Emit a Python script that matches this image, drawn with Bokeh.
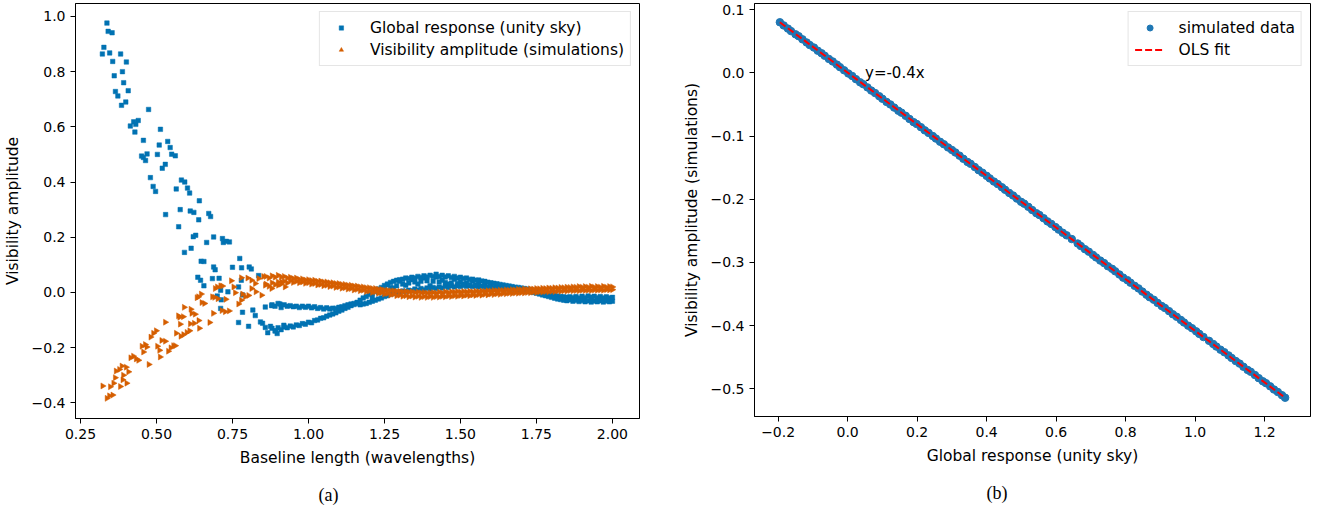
import numpy as np
from bokeh.plotting import figure
from bokeh.models import Range1d, FixedTicker, Legend, LegendItem, Title, Label
from bokeh.layouts import row
from bokeh.embed import file_html
from bokeh.resources import INLINE
from bokeh.core.properties import value

# ---------------- panel (a): scattered points ----------------
glob_x = [0.337, 0.341, 0.354, 0.327, 0.322, 0.346, 0.382, 0.356, 0.401, 0.388, 0.361, 0.392, 0.407, 0.365,
          0.373, 0.399, 0.385, 0.474, 0.440, 0.425, 0.432, 0.414, 0.429, 0.513, 0.457, 0.537, 0.509, 0.545,
          0.550, 0.562, 0.503, 0.469, 0.451, 0.457, 0.464, 0.529, 0.519, 0.480, 0.582, 0.593, 0.565, 0.602,
          0.489, 0.497, 0.609, 0.641, 0.578, 0.611, 0.623, 0.672, 0.678, 0.530, 0.639, 0.573, 0.621, 0.629,
          0.592, 0.614, 0.665, 0.688, 0.717, 0.720, 0.730, 0.740, 0.647, 0.656, 0.688, 0.693, 0.774, 0.750,
          0.780, 0.805, 0.812, 0.836, 0.636, 0.645, 0.656, 0.684, 0.706, 0.711, 0.770, 0.779, 0.700, 0.713,
          0.735, 0.783, 0.711, 0.783, 0.817, 0.825, 0.770, 0.803, 0.842, 0.849, 0.858, 0.879, 0.906, 0.858,
          0.866, 0.875, 0.892, 0.897, 0.919,
          1.21, 1.23, 1.26, 1.28, 1.30, 1.32, 1.34, 1.36, 1.38, 1.40, 1.42, 1.44, 1.46, 1.48, 1.50, 1.52,
          1.54, 1.56, 1.58, 1.60, 1.62, 1.64, 1.66, 1.81, 1.84, 1.87, 1.90, 1.93, 1.96, 1.99]
glob_y = [0.976, 0.946, 0.941, 0.888, 0.864, 0.868, 0.864, 0.837, 0.835, 0.800, 0.785, 0.760, 0.731, 0.728,
          0.712, 0.690, 0.678, 0.663, 0.623, 0.618, 0.609, 0.603, 0.581, 0.591, 0.551, 0.547, 0.534, 0.525,
          0.501, 0.495, 0.500, 0.502, 0.494, 0.489, 0.478, 0.464, 0.450, 0.416, 0.407, 0.400, 0.375, 0.378,
          0.384, 0.366, 0.360, 0.332, 0.300, 0.295, 0.290, 0.286, 0.275, 0.282, 0.263, 0.238, 0.202, 0.207,
          0.145, 0.160, 0.181, 0.201, 0.195, 0.181, 0.185, 0.183, 0.113, 0.112, 0.092, 0.082, 0.123, 0.091,
          0.089, 0.092, 0.085, 0.061, 0.055, 0.044, 0.024, 0.050, 0.051, 0.008, 0.020, 0.044, -0.013, -0.027,
          0.002, -0.009, -0.058, -0.072, -0.064, -0.084, -0.109, -0.123, -0.107, -0.112, -0.053, -0.048, -0.042, -0.127,
          -0.146, -0.123, -0.139, -0.149, -0.119,
          -0.018, 0.000, 0.028, 0.016, 0.040, 0.026, 0.046, 0.030, 0.052, 0.024, 0.056, 0.044, 0.030, 0.048, 0.038, 0.034,
          0.040, 0.030, 0.032, 0.027, 0.028, 0.022, 0.018, -0.016, -0.022, -0.026, -0.024, -0.027, -0.025, -0.026]

vis_x = [0.323, 0.337, 0.345, 0.356, 0.348, 0.359, 0.364, 0.367, 0.378, 0.386, 0.400, 0.408, 0.391, 0.389,
         0.402, 0.381, 0.415, 0.424, 0.433, 0.441, 0.457, 0.452, 0.463, 0.468, 0.475, 0.481, 0.490, 0.499,
         0.503, 0.510, 0.512, 0.517, 0.529, 0.539, 0.547, 0.556, 0.562, 0.529, 0.565, 0.580, 0.589, 0.600,
         0.609, 0.576, 0.578, 0.591, 0.613, 0.616, 0.627, 0.611, 0.624, 0.639, 0.641, 0.638, 0.647, 0.649,
         0.633, 0.658, 0.684, 0.693, 0.700, 0.711, 0.717, 0.691, 0.702, 0.687, 0.675, 0.715, 0.726, 0.739,
         0.728, 0.746, 0.754, 0.759, 0.770, 0.779, 0.783, 0.792, 0.803, 0.779, 0.800, 0.813, 0.825, 0.836,
         0.852, 0.813, 0.827, 0.846, 0.858, 0.879, 0.901, 0.912, 0.923, 0.572, 0.588]
vis_y = [-0.339, -0.384, -0.375, -0.372, -0.342, -0.329, -0.309, -0.285, -0.279, -0.267, -0.271, -0.288, -0.300, -0.317,
         -0.329, -0.341, -0.237, -0.231, -0.241, -0.246, -0.216, -0.195, -0.189, -0.198, -0.261, -0.162, -0.148, -0.139,
         -0.195, -0.210, -0.234, -0.174, -0.177, -0.213, -0.201, -0.193, -0.193, -0.108, -0.148, -0.159, -0.153, -0.145,
         -0.139, -0.090, -0.115, -0.054, -0.061, -0.076, -0.079, -0.114, -0.112, -0.102, -0.130, -0.016, -0.006, -0.037,
         -0.019, -0.040, -0.016, 0.014, 0.020, 0.024, 0.023, -0.018, -0.023, -0.076, -0.109, -0.066, -0.070, -0.067,
         -0.025, 0.042, 0.020, -0.001, -0.042, -0.028, -0.006, -0.016, -0.011, 0.053, 0.052, 0.044, 0.032, 0.050,
         0.058, 0.014, 0.002, -0.010, 0.026, 0.014, 0.026, 0.038, 0.020, -0.085, -0.088]

# ---------------- panel (a): dense bands (baselines 0.86 ... 2.00) ----------------
band_x = [0.86, 0.87, 0.88, 0.89, 0.90, 0.91, 0.92, 0.93, 0.94, 0.95, 0.96, 0.97, 0.98, 0.99, 1.00,
          1.01, 1.02, 1.03, 1.04, 1.05, 1.06, 1.07, 1.08, 1.09, 1.10, 1.11, 1.12, 1.13, 1.14, 1.15,
          1.16, 1.17, 1.18, 1.19, 1.20, 1.21, 1.22, 1.23, 1.24, 1.25, 1.26, 1.27, 1.28, 1.29, 1.30,
          1.31, 1.32, 1.33, 1.34, 1.35, 1.36, 1.37, 1.38, 1.39, 1.40, 1.41, 1.42, 1.43, 1.44, 1.45,
          1.46, 1.47, 1.48, 1.49, 1.50, 1.51, 1.52, 1.53, 1.54, 1.55, 1.56, 1.57, 1.58, 1.59, 1.60,
          1.61, 1.62, 1.63, 1.64, 1.65, 1.66, 1.67, 1.68, 1.69, 1.70, 1.71, 1.72, 1.73, 1.74, 1.75,
          1.76, 1.77, 1.78, 1.79, 1.80, 1.81, 1.82, 1.83, 1.84, 1.85, 1.86, 1.87, 1.88, 1.89, 1.90,
          1.91, 1.92, 1.93, 1.94, 1.95, 1.96, 1.97, 1.98, 1.99, 2.00]

# global response, baselines 0.88 ... 1.16 (two strands)
glob_upper = [-0.045, -0.050, -0.040, -0.055, -0.045, -0.050, -0.048, -0.052, -0.050, -0.055, -0.050, -0.054,
              -0.050, -0.056, -0.052, -0.058, -0.055, -0.060, -0.056, -0.060, -0.057, -0.058, -0.054, -0.052,
              -0.048, -0.045, -0.042, -0.040, -0.036]
glob_lower = [-0.130, -0.140, -0.128, -0.135, -0.125, -0.128, -0.122, -0.125, -0.118, -0.120, -0.113, -0.115,
              -0.108, -0.110, -0.102, -0.100, -0.094, -0.092, -0.086, -0.082, -0.078, -0.074, -0.068, -0.064,
              -0.058, -0.054, -0.048, -0.044, -0.040]
# global response, baselines 1.17 ... 2.00
glob_top = [-0.028, -0.020, -0.015, -0.008, -0.002, 0.004, 0.012, 0.018, 0.025, 0.030, 0.036, 0.040,
            0.044, 0.046, 0.048, 0.052, 0.050, 0.055, 0.052, 0.058, 0.054, 0.060, 0.056, 0.062,
            0.058, 0.066, 0.058, 0.062, 0.056, 0.060, 0.054, 0.058, 0.052, 0.055, 0.050, 0.052,
            0.047, 0.048, 0.044, 0.045, 0.041, 0.040, 0.037, 0.035, 0.033, 0.031, 0.029, 0.027,
            0.025, 0.023, 0.021, 0.019, 0.018, 0.016, 0.014, 0.012, 0.010, 0.008, 0.006, 0.003,
            0.000, -0.003, -0.006, -0.009, -0.011, -0.013, -0.015, -0.016, -0.018, -0.016, -0.019, -0.015,
            -0.020, -0.014, -0.019, -0.013, -0.018, -0.014, -0.019, -0.015, -0.020, -0.016, -0.020, -0.018]
glob_bot = [-0.045, -0.042, -0.040, -0.036, -0.032, -0.028, -0.024, -0.020, -0.015, -0.012, -0.006, -0.004,
            0.000, 0.002, 0.005, 0.004, 0.008, 0.006, 0.012, 0.008, 0.014, 0.010, 0.016, 0.012,
            0.018, 0.014, 0.020, 0.016, 0.022, 0.018, 0.024, 0.020, 0.024, 0.021, 0.025, 0.022,
            0.024, 0.021, 0.023, 0.020, 0.022, 0.019, 0.020, 0.018, 0.018, 0.016, 0.016, 0.014,
            0.014, 0.012, 0.012, 0.010, 0.009, 0.008, 0.006, 0.004, 0.002, 0.000, -0.003, -0.006,
            -0.009, -0.012, -0.015, -0.018, -0.021, -0.024, -0.026, -0.028, -0.030, -0.027, -0.032, -0.028,
            -0.033, -0.029, -0.034, -0.030, -0.035, -0.031, -0.034, -0.030, -0.035, -0.031, -0.034, -0.032]
glob_mid_x = [1.25, 1.27, 1.29, 1.31, 1.33, 1.35, 1.37, 1.39, 1.41, 1.43, 1.45, 1.47, 1.49, 1.51, 1.53, 1.55]
glob_mid_y = [0.010, 0.018, 0.024, 0.030, 0.034, 0.038, 0.040, 0.042, 0.040, 0.038, 0.036, 0.034, 0.032,
              0.030, 0.028, 0.026]

# visibility amplitude, baselines 0.86 ... 2.00 (two strands)
vis_top = [0.058, 0.052, 0.060, 0.055, 0.062, 0.056, 0.058, 0.052, 0.055, 0.050, 0.052, 0.047, 0.049, 0.045, 0.046,
           0.043, 0.044, 0.040, 0.041, 0.038, 0.038, 0.035, 0.035, 0.032, 0.032, 0.029, 0.029, 0.026, 0.026, 0.023,
           0.023, 0.020, 0.020, 0.017, 0.017, 0.014, 0.014, 0.011, 0.011, 0.008, 0.008, 0.006, 0.006, 0.004, 0.004,
           0.002, 0.003, 0.001, 0.002, 0.000, 0.001, -0.001, 0.000, -0.002, -0.001, 0.000, -0.002, 0.001, -0.001, 0.002,
           0.000, 0.002, 0.001, 0.003, 0.001, 0.003, 0.002, 0.004, 0.002, 0.004, 0.003, 0.005, 0.004, 0.006, 0.005,
           0.007, 0.006, 0.008, 0.007, 0.009, 0.008, 0.010, 0.009, 0.011, 0.010, 0.012, 0.011, 0.013, 0.012, 0.014,
           0.013, 0.015, 0.014, 0.016, 0.015, 0.017, 0.016, 0.018, 0.017, 0.019, 0.018, 0.020, 0.019, 0.021, 0.019,
           0.021, 0.019, 0.022, 0.019, 0.021, 0.019, 0.022, 0.019, 0.021, 0.020]
vis_bot = [0.030, 0.022, 0.035, 0.028, 0.038, 0.030, 0.040, 0.034, 0.042, 0.036, 0.040, 0.035, 0.038, 0.033, 0.035,
           0.030, 0.032, 0.027, 0.029, 0.024, 0.026, 0.021, 0.023, 0.018, 0.020, 0.015, 0.017, 0.012, 0.014, 0.009,
           0.011, 0.006, 0.008, 0.003, 0.005, 0.000, 0.002, -0.003, -0.001, -0.006, -0.004, -0.009, -0.007, -0.012, -0.010,
           -0.014, -0.012, -0.016, -0.013, -0.017, -0.014, -0.018, -0.015, -0.018, -0.015, -0.018, -0.015, -0.017, -0.014, -0.016,
           -0.013, -0.015, -0.012, -0.014, -0.011, -0.013, -0.010, -0.012, -0.009, -0.011, -0.008, -0.010, -0.007, -0.009, -0.006,
           -0.008, -0.005, -0.007, -0.004, -0.005, -0.003, -0.004, -0.002, -0.003, -0.001, -0.002, 0.000, -0.001, 0.001, 0.000,
           0.002, 0.001, 0.003, 0.002, 0.004, 0.003, 0.005, 0.004, 0.006, 0.005, 0.007, 0.006, 0.007, 0.006, 0.008,
           0.007, 0.008, 0.007, 0.009, 0.008, 0.009, 0.008, 0.010, 0.009, 0.010]

# ---------------- panel (b) ----------------
sim_x = [-0.195, -0.184, -0.172, -0.163, -0.150, -0.141, -0.130, -0.118, -0.109, -0.097, -0.086, -0.075, -0.066,
         -0.054, -0.043, -0.031, -0.022, -0.010, 0.002, 0.013, 0.024, 0.036, 0.045, 0.057, 0.068, 0.079, 0.091,
         0.100, 0.112, 0.123, 0.134, 0.146, 0.155, 0.167, 0.178, 0.190, 0.199, 0.211, 0.222, 0.233, 0.245, 0.254,
         0.266, 0.277, 0.289, 0.300, 0.310, 0.322, 0.333, 0.345, 0.354, 0.366, 0.377, 0.388, 0.400, 0.409, 0.421,
         0.432, 0.444, 0.453, 0.465, 0.476, 0.487, 0.499, 0.508, 0.520, 0.531, 0.543, 0.552, 0.564, 0.575, 0.586,
         0.598, 0.607, 0.619, 0.630, 0.645, 0.662, 0.671, 0.683, 0.694, 0.706, 0.715, 0.727, 0.738, 0.749, 0.761,
         0.770, 0.782, 0.793, 0.805, 0.814, 0.826, 0.837, 0.848, 0.860, 0.869, 0.881, 0.892, 0.904, 0.913, 0.925,
         0.936, 0.947, 0.959, 0.968, 0.980, 0.991, 1.003, 1.012, 1.024, 1.040, 1.052, 1.061, 1.073, 1.084, 1.096,
         1.105, 1.117, 1.128, 1.139, 1.151, 1.160, 1.172, 1.183, 1.195, 1.204, 1.216, 1.227, 1.238, 1.250, 1.259]
sim_y = [0.080, 0.075, 0.070, 0.066, 0.061, 0.058, 0.053, 0.048, 0.044, 0.040, 0.035, 0.031, 0.027,
         0.022, 0.018, 0.013, 0.009, 0.004, -0.001, -0.005, -0.010, -0.015, -0.018, -0.023, -0.028, -0.032, -0.037,
         -0.041, -0.046, -0.050, -0.055, -0.060, -0.063, -0.068, -0.073, -0.078, -0.081, -0.086, -0.091, -0.095, -0.100, -0.104,
         -0.109, -0.113, -0.118, -0.122, -0.126, -0.131, -0.136, -0.141, -0.144, -0.149, -0.154, -0.158, -0.163, -0.167, -0.172,
         -0.176, -0.181, -0.185, -0.190, -0.194, -0.199, -0.204, -0.207, -0.212, -0.217, -0.222, -0.225, -0.230, -0.235, -0.239,
         -0.244, -0.248, -0.253, -0.257, -0.263, -0.270, -0.274, -0.279, -0.283, -0.288, -0.292, -0.297, -0.301, -0.306, -0.310,
         -0.314, -0.319, -0.324, -0.328, -0.332, -0.337, -0.341, -0.346, -0.351, -0.355, -0.359, -0.364, -0.369, -0.372, -0.377,
         -0.382, -0.386, -0.391, -0.395, -0.400, -0.404, -0.409, -0.413, -0.418, -0.424, -0.429, -0.433, -0.438, -0.442, -0.447,
         -0.451, -0.456, -0.460, -0.465, -0.470, -0.473, -0.478, -0.483, -0.488, -0.491, -0.496, -0.501, -0.505, -0.510, -0.514]
fit_x = [-0.195, 1.259]
fit_y = [0.080, -0.514]
fit_label = "y=-0.4x"

a_xticks = [0.25, 0.50, 0.75, 1.00, 1.25, 1.50, 1.75, 2.00]
a_xlabels = ["0.25", "0.50", "0.75", "1.00", "1.25", "1.50", "1.75", "2.00"]
a_yticks = [-0.4, -0.2, 0.0, 0.2, 0.4, 0.6, 0.8, 1.0]
a_ylabels = ["\u22120.4", "\u22120.2", "0.0", "0.2", "0.4", "0.6", "0.8", "1.0"]
b_xticks = [-0.2, 0.0, 0.2, 0.4, 0.6, 0.8, 1.0, 1.2]
b_xlabels = ["\u22120.2", "0.0", "0.2", "0.4", "0.6", "0.8", "1.0", "1.2"]
b_yticks = [-0.5, -0.4, -0.3, -0.2, -0.1, 0.0, 0.1]
b_ylabels = ["\u22120.5", "\u22120.4", "\u22120.3", "\u22120.2", "\u22120.1", "0.0", "0.1"]

FONT = "DejaVu Sans"
BLUE_A = "#0072B2"
ORANGE_A = "#D55E00"
BLUE_B = "#1f77b4"


def style(p, xt, xl, yt, yl, xlabel, ylabel):
    p.xaxis.ticker = FixedTicker(ticks=xt)
    p.xaxis.major_label_overrides = {t: s for t, s in zip(xt, xl)}
    p.yaxis.ticker = FixedTicker(ticks=yt)
    p.yaxis.major_label_overrides = {t: s for t, s in zip(yt, yl)}
    p.xaxis.axis_label = xlabel
    p.yaxis.axis_label = ylabel
    for ax in p.axis:
        ax.axis_line_color = "black"
        ax.axis_line_width = 1
        ax.major_tick_line_color = "black"
        ax.major_tick_out = 5
        ax.major_tick_in = 0
        ax.minor_tick_line_color = None
        ax.major_label_text_font = FONT
        ax.major_label_text_font_size = "14px"
        ax.major_label_text_color = "black"
        ax.major_label_standoff = 5
        ax.axis_label_text_font = FONT
        ax.axis_label_text_font_size = "15.5px"
        ax.axis_label_text_font_style = "normal"
        ax.axis_label_text_color = "black"
        ax.axis_label_standoff = 7
    p.grid.visible = False
    p.outline_line_color = "black"
    p.outline_line_width = 1
    p.outline_line_alpha = 1
    p.background_fill_color = "white"
    p.border_fill_color = "white"


def make_legend(items, margin, glyph_h):
    return Legend(items=items, location="top_right", margin=margin, padding=6, spacing=3,
                  label_height=19, glyph_height=glyph_h, glyph_width=30, label_standoff=14,
                  label_text_font=FONT, label_text_font_size="15.5px", label_text_color="black",
                  border_line_color="#cccccc", border_line_width=1, background_fill_alpha=0.8)


# ---------------- figure (a) ----------------
p1 = figure(frame_width=564, frame_height=415, x_range=Range1d(0.2336, 2.089), y_range=Range1d(-0.457, 1.047),
            output_backend="svg", toolbar_location=None,
            min_border_left=69, min_border_right=40, min_border_top=0, min_border_bottom=83)
style(p1, a_xticks, a_xlabels, a_yticks, a_ylabels, "Baseline length (wavelengths)", "Visibility amplitude")

gx_all = list(glob_x) + band_x[2:31] + band_x[2:31] + band_x[31:] + band_x[31:] + glob_mid_x
gy_all = list(glob_y) + glob_upper + glob_lower + glob_top + glob_bot + glob_mid_y
vx_all = list(vis_x) + band_x + band_x
vy_all = list(vis_y) + vis_top + vis_bot

r_glob = p1.scatter(gx_all, gy_all, marker="square", size=4.5, fill_color=BLUE_A, line_color=BLUE_A, line_width=0.5)
r_vis = p1.scatter(vx_all, vy_all, marker="triangle", angle=-np.pi / 2, size=6, fill_color=ORANGE_A,
                   line_color=ORANGE_A, line_width=0.5)
p1.add_layout(make_legend([LegendItem(label="Global response (unity sky)", renderers=[r_glob]),
                           LegendItem(label="Visibility amplitude (simulations)", renderers=[r_vis])], 8, 11))
p1.add_layout(Title(text="(a)", align="left", offset=243, standoff=27, text_font="Liberation Serif",
                    text_font_size="18px", text_font_style="normal", text_color="black"), "below")

# ---------------- figure (b) ----------------
p2 = figure(frame_width=556, frame_height=413, x_range=Range1d(-0.268, 1.332), y_range=Range1d(-0.5437, 0.1097),
            output_backend="svg", toolbar_location=None,
            min_border_left=74, min_border_right=4, min_border_top=3, min_border_bottom=82)
style(p2, b_xticks, b_xlabels, b_yticks, b_ylabels, "Global response (unity sky)", "Visibility amplitude (simulations)")

r_sim = p2.scatter(sim_x, sim_y, marker="circle", size=7.5, fill_color=BLUE_B, line_color=BLUE_B)
r_fit = p2.line(fit_x, fit_y, line_color="red", line_width=2, line_dash="7 3")
p2.add_layout(Label(x=0.05, y=0.0, text=fit_label, text_font=FONT, text_font_size="15px",
                    text_baseline="alphabetic", text_color="black"))
p2.add_layout(make_legend([LegendItem(label="simulated data", renderers=[r_sim]),
                           LegendItem(label="OLS fit", renderers=[r_fit])], 8, 15))
p2.add_layout(Title(text="(b)", align="left", offset=232, standoff=27, text_font="Liberation Serif",
                    text_font_size="18px", text_font_style="normal", text_color="black"), "below")

layout = row(p1, p2)
open("out.html", "w").write(file_html(layout, INLINE))
